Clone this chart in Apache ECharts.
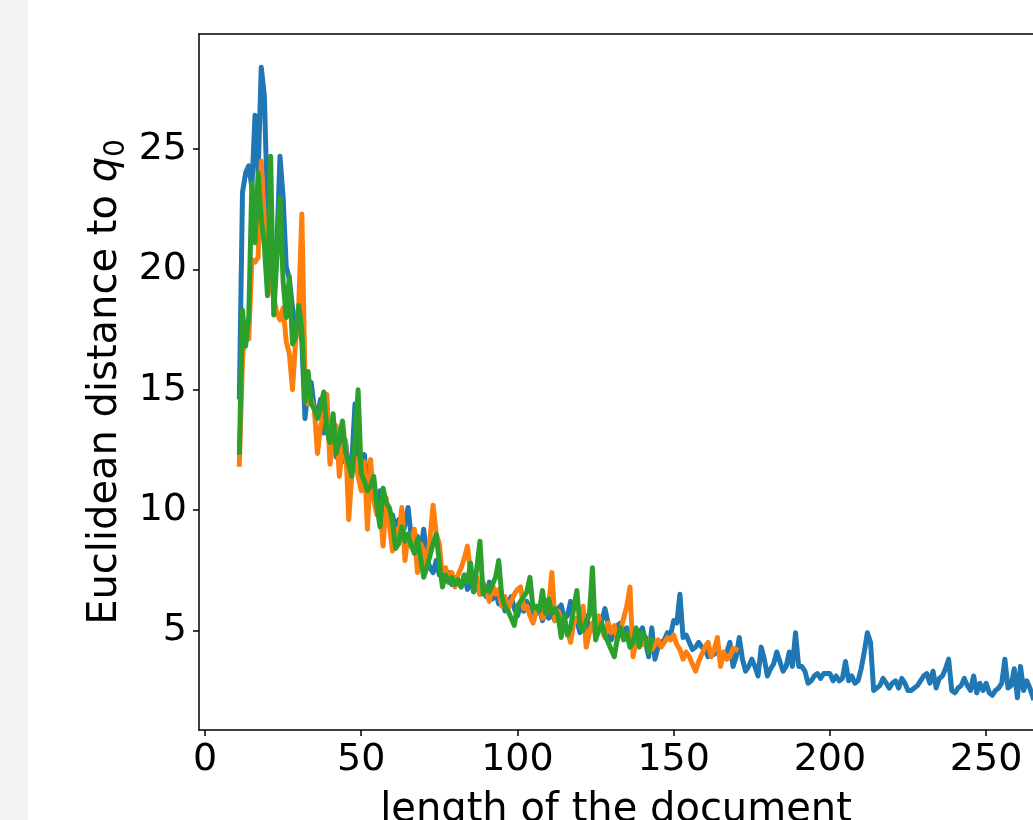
<!DOCTYPE html>
<html>
<head>
<meta charset="utf-8">
<script src="https://cdn.jsdelivr.net/npm/echarts@6/dist/echarts.min.js"></script>
<style>
  html, body { margin: 0; padding: 0; background: #ffffff; }
  #strip { position: absolute; left: 0; top: 0; width: 28px; height: 820px; background: #f2f2f2; }
  #chart { position: absolute; left: 0; top: 0; width: 1033px; height: 820px; }
</style>
</head>
<body>
<div id="strip"></div>
<div id="chart"></div>
<script>
// x tick labels / y tick labels
const xTicks = [0, 50, 100, 150, 200, 250];
const yTicks = [5, 10, 15, 20, 25];

// each series: one value per document length, starting at the given length
const blueStart = 11;
const blueValues = [
  14.7, 23.2, 24.0, 24.3, 23.4, 26.4, 24.0, 28.4, 27.2, 22.5,
  20.4, 19.5, 21.0, 24.7, 23.0, 20.1, 19.6, 18.4, 17.4, 18.0,
  17.0, 13.8, 15.0, 15.3, 14.2, 14.0, 14.6, 13.2, 13.8, 12.6,
  13.0, 12.2, 13.2, 12.0, 12.8, 11.6, 12.0, 14.4, 12.4, 11.8,
  12.3, 11.0, 11.6, 10.6, 10.2, 10.8, 9.8, 10.3, 9.6, 9.8,
  9.2, 9.6, 8.8, 9.4, 10.1, 8.9, 8.5, 8.9, 8.3, 9.2,
  8.0, 7.6, 7.4, 7.9, 7.3, 7.5, 7.1, 7.4, 6.9, 7.2,
  7.0, 6.8, 7.3, 6.7, 7.1, 6.6, 6.9, 6.5, 6.7, 6.4,
  7.0, 6.3, 6.6, 6.1, 6.4, 5.8, 6.1, 6.4, 5.9, 5.6,
  6.0, 5.8, 6.2, 5.9, 5.6, 5.7, 5.9, 5.4, 5.8, 5.5,
  5.7, 5.4, 5.9, 6.05, 5.5, 5.6, 6.2, 5.3, 5.4, 4.9,
  5.3, 5.6, 5.0, 5.2, 5.5, 5.1, 5.4, 5.9, 5.3, 4.6,
  5.0, 5.2, 5.3, 4.9, 5.1, 4.8, 5.0, 4.7, 4.9, 5.1,
  4.5, 3.9, 5.1, 3.8, 4.3, 4.5, 4.6, 4.9, 4.8, 5.4,
  5.3, 6.5, 4.7, 4.8, 4.5, 4.2, 4.3, 4.5, 4.3, 4.2,
  3.9, 4.1, 4.0, 4.2, 3.9, 4.0, 4.1, 4.5, 3.5, 3.9,
  4.7, 3.8, 3.3, 3.5, 3.8, 3.5, 3.1, 4.3, 3.8, 3.1,
  3.4, 3.6, 4.1, 3.7, 3.3, 3.5, 4.1, 3.5, 4.9, 3.5,
  3.5, 3.3, 2.8, 2.9, 3.1, 3.2, 3.0, 3.2, 3.2, 3.2,
  2.9, 3.1, 2.9, 3.0, 3.7, 2.9, 3.1, 2.8, 2.9, 3.4,
  4.1, 4.9, 4.5, 2.5, 2.6, 2.7, 3.0, 2.8, 2.6, 2.8,
  2.9, 2.6, 3.0, 2.8, 2.5, 2.5, 2.6, 2.7, 2.9, 3.1,
  3.2, 2.8, 3.3, 2.6, 3.0, 3.1, 3.4, 3.8, 2.5, 2.4,
  2.6, 2.7, 3.0, 2.7, 2.5, 3.1, 2.4, 2.8, 2.5, 2.8,
  2.4, 2.3, 2.5, 2.6, 2.8, 3.8, 2.6, 2.7, 3.4, 2.2,
  3.5, 2.5, 2.9, 2.6, 2.2
];

const orangeStart = 11;
const orangeValues = [
  11.9, 16.2, 17.8, 17.1, 20.4, 20.3, 20.5, 24.5, 22.0, 21.2,
  19.5, 18.8, 18.2, 17.9, 18.4, 17.0, 16.5, 15.0, 17.0, 18.5,
  22.3, 15.5, 14.4, 14.6, 14.15, 12.35, 13.5, 14.0, 14.8, 11.9,
  13.0, 13.5, 11.4, 12.6, 12.9, 9.6, 11.5, 12.2, 11.4, 10.8,
  12.0, 9.2, 12.1, 10.4, 9.8, 10.2, 8.5, 10.5, 9.4, 8.3,
  9.2, 8.9, 10.1, 7.9, 9.0, 8.6, 9.2, 7.4, 8.6, 8.3,
  7.6, 8.8, 10.2, 9.0, 8.6, 7.2, 7.6, 7.0, 7.4, 6.8,
  7.3, 7.6, 8.0, 8.5, 7.4, 6.9, 7.2, 6.5, 7.0, 6.6,
  6.2, 6.9, 6.5, 6.7, 6.0, 6.4, 5.9, 6.2, 6.5, 6.7,
  6.8, 5.9, 6.0, 5.6, 5.3, 5.8, 6.0, 5.5, 5.7, 6.0,
  7.4, 5.4, 5.8, 5.5, 5.2, 5.0, 4.5, 5.3, 5.5, 5.6,
  6.0, 4.3, 4.9, 5.3, 4.8, 5.6, 5.0, 4.7, 5.3, 4.9,
  5.2, 4.6, 5.0, 5.5, 6.0, 6.8, 3.9, 4.6, 4.8, 4.4,
  4.7, 4.5, 4.2, 4.4, 4.6, 4.3, 4.5, 4.7, 4.6, 4.8,
  4.4, 4.2, 3.8, 4.1, 3.9, 3.6, 3.3, 3.7, 4.0, 4.3,
  4.5, 3.9, 4.2, 4.7, 3.5, 4.1, 3.8, 3.9, 4.25, 4.2
];

const greenStart = 11;
const greenValues = [
  12.4, 18.3, 16.8, 18.0, 23.6, 21.1, 24.0, 22.1, 21.0, 18.9,
  24.7, 18.1, 20.5, 23.0, 19.5, 18.0, 19.7, 16.9, 17.2, 18.5,
  17.5, 14.5, 15.75, 14.4, 14.2, 13.8, 14.3, 14.9, 13.3, 12.8,
  14.0, 12.35, 13.0, 13.7, 12.4, 11.9, 11.4, 12.8, 15.0, 11.5,
  11.2, 10.8, 11.0, 11.4, 10.2, 9.3, 10.9, 10.3, 10.1, 9.5,
  8.4, 8.6, 9.3, 8.7, 9.0, 8.5, 8.2, 8.8, 8.0, 7.2,
  7.6, 8.1, 8.6, 9.0, 7.8, 6.8, 7.3, 7.0, 7.2, 6.9,
  7.1, 6.8, 7.3, 7.0, 7.8, 6.6, 7.6, 8.7, 6.5, 6.8,
  6.6, 6.9, 7.2, 7.9, 6.4, 6.0, 5.8, 5.5, 5.2, 6.0,
  6.2, 6.4, 6.6, 7.2, 5.9, 6.0, 5.8, 6.65, 5.7, 6.3,
  5.7, 5.9, 5.6, 4.7, 5.6, 4.8, 5.1, 5.9, 6.65, 5.2,
  5.0, 5.4, 5.6, 7.6, 4.6, 5.0, 5.3, 4.8, 4.5, 4.2,
  3.9, 4.7, 5.1, 4.6, 4.9, 4.3, 4.5, 5.1, 4.3, 4.9,
  4.7, 4.1, 4.6
];

function pairs(start, values) {
  return values.map((v, i) => [start + i, v]);
}

const font = "DejaVu Sans";
const xMin = -1.92, xMax = 265.0;
const yMin = 0.856, yMax = 29.78;

const chart = echarts.init(document.getElementById("chart"), null, { renderer: "canvas" });

const lineSeries = (name, color, data) => ({
  name,
  type: "line",
  data,
  showSymbol: false,
  symbol: "none",
  animation: false,
  clip: true,
  lineStyle: { color, width: 5, join: "round", cap: "square" },
});

chart.setOption({
  backgroundColor: "transparent",
  animation: false,
  grid: { left: 199, right: 0, top: 34, bottom: 90, containLabel: false, outerBoundsMode: "none" },
  xAxis: [
    {
      type: "value",
      min: xMin,
      max: xMax,
      name: "length of the document",
      nameLocation: "middle",
      nameGap: 61,
      nameMoveOverlap: false,
      nameTextStyle: { fontFamily: font, fontSize: 40, color: "#000" },
      axisLine: { show: true, onZero: false, lineStyle: { color: "#000", width: 1.5 } },
      axisTick: { show: true, length: 6, lineStyle: { color: "#000", width: 1.5 }, customValues: xTicks },
      axisLabel: { fontFamily: font, fontSize: 38, color: "#000", margin: 11, customValues: xTicks },
      splitLine: { show: false },
    },
    {
      type: "value",
      position: "top",
      min: xMin,
      max: xMax,
      axisLine: { show: true, onZero: false, lineStyle: { color: "#000", width: 1.5 } },
      axisTick: { show: false },
      axisLabel: { show: false },
      splitLine: { show: false },
    },
  ],
  yAxis: {
    type: "value",
    min: yMin,
    max: yMax,
    name: "{a|Euclidean distance to }{q|q}{s|0}",
    nameLocation: "middle",
    nameRotate: 90,
    nameGap: 68,
    nameMoveOverlap: false,
    nameTextStyle: {
      fontFamily: font,
      fontSize: 40,
      color: "#000",
      rich: {
        a: { fontFamily: font, fontSize: 40, lineHeight: 50, color: "#000" },
        q: { fontFamily: font, fontSize: 40, lineHeight: 50, fontStyle: "italic", color: "#000" },
        s: { fontFamily: font, fontSize: 28, lineHeight: 28, verticalAlign: "bottom", color: "#000" },
      },
    },
    axisLine: { show: true, onZero: false, lineStyle: { color: "#000", width: 1.5 } },
    axisTick: { show: true, length: 6, lineStyle: { color: "#000", width: 1.5 }, customValues: yTicks },
    axisLabel: { fontFamily: font, fontSize: 38, color: "#000", margin: 12, customValues: yTicks },
    splitLine: { show: false },
  },
  series: [
    lineSeries("blue", "#1f77b4", pairs(blueStart, blueValues)),
    lineSeries("orange", "#ff7f0e", pairs(orangeStart, orangeValues)),
    lineSeries("green", "#2ca02c", pairs(greenStart, greenValues)),
  ],
});
</script>
</body>
</html>
